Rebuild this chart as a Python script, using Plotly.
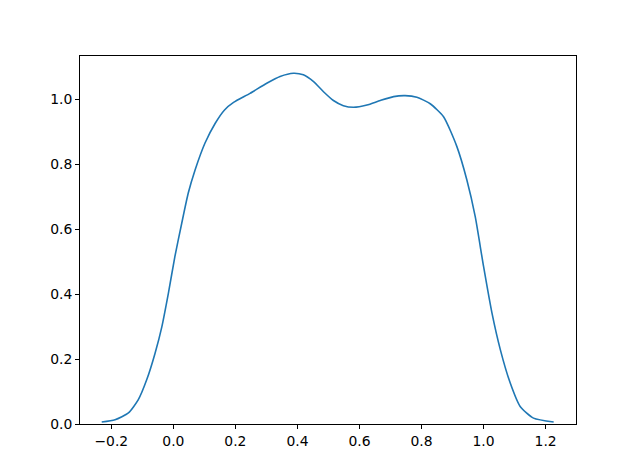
import plotly.graph_objects as go

x_vals = [-0.231, -0.188, -0.145, -0.113, -0.086, -0.059, -0.037, -0.016, 0.005, 0.027,
          0.048, 0.070, 0.102, 0.135, 0.165, 0.194, 0.247, 0.301, 0.344, 0.387,
          0.419, 0.452, 0.484, 0.516, 0.548, 0.581, 0.624, 0.667, 0.710, 0.747,
          0.785, 0.828, 0.871, 0.914, 0.946, 0.973, 1.000, 1.027, 1.054, 1.086,
          1.118, 1.161, 1.226]
density = [0.006, 0.013, 0.034, 0.075, 0.136, 0.218, 0.300, 0.403, 0.516, 0.618,
           0.711, 0.782, 0.865, 0.926, 0.967, 0.990, 1.018, 1.049, 1.070, 1.080,
           1.075, 1.054, 1.023, 0.996, 0.980, 0.975, 0.982, 0.996, 1.008, 1.011,
           1.006, 0.986, 0.946, 0.854, 0.752, 0.639, 0.485, 0.342, 0.229, 0.126,
           0.054, 0.018, 0.006]
x_ticks = [-0.2, 0.0, 0.2, 0.4, 0.6, 0.8, 1.0, 1.2]
y_ticks = [0.0, 0.2, 0.4, 0.6, 0.8, 1.0]

fig = go.Figure(go.Scatter(x=x_vals, y=density, mode="lines",
                           line=dict(color="#1f77b4", width=1.6, shape="spline", smoothing=0.6)))

axis_common = dict(showgrid=False, zeroline=False, showline=True, linecolor="black", linewidth=1,
                   mirror=True, ticks="outside", ticklen=4, tickwidth=1, tickcolor="black",
                   tickformat=".1f", tickfont=dict(family="DejaVu Sans", size=13.9, color="black"))

fig.update_layout(
    width=640, height=476,
    margin=dict(l=72, r=72, t=48, b=60),
    plot_bgcolor="white", paper_bgcolor="white",
    showlegend=False,
    xaxis=dict(range=[-0.301, 1.298], tickvals=x_ticks, **axis_common),
    yaxis=dict(range=[0, 1.133], tickvals=y_ticks, **axis_common),
)

fig.write_html("out.html")
